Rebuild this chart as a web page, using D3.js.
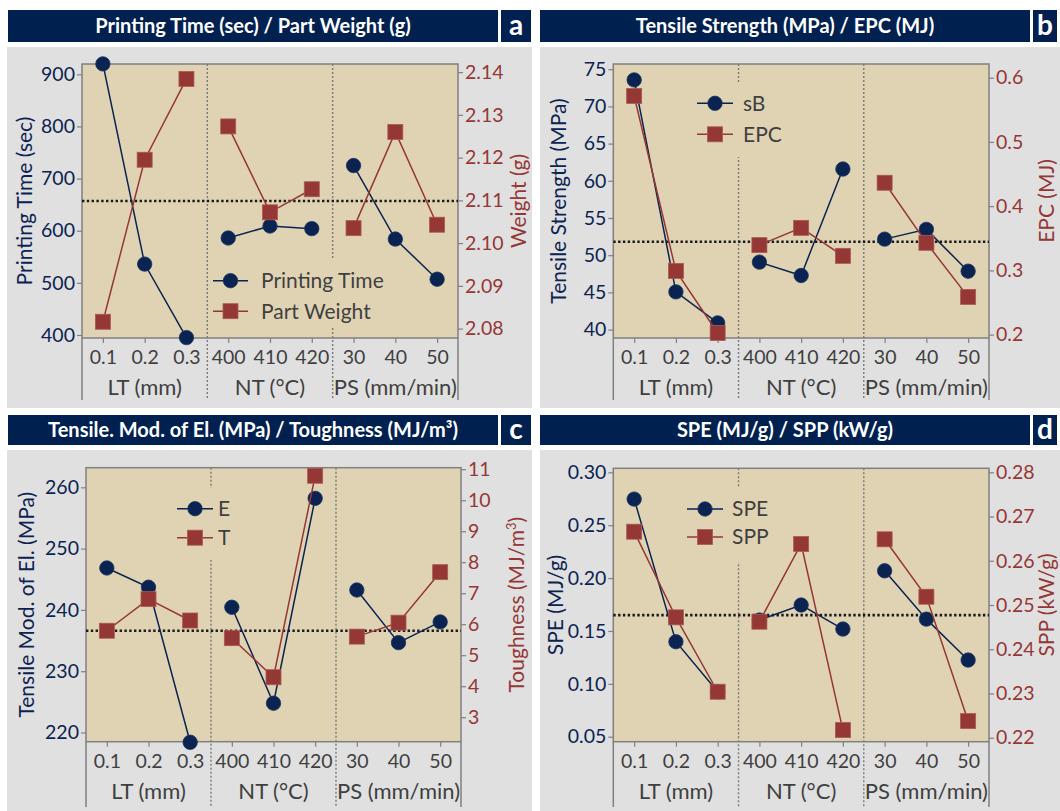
<!DOCTYPE html>
<html>
<head>
<meta charset="utf-8">
<script src="https://cdn.jsdelivr.net/npm/d3@7"></script>
<style>
  html, body { margin: 0; padding: 0; background: #ffffff; }
  svg { display: block; font-family: Lato, "Open Sans", sans-serif; }
</style>
</head>
<body>
<svg id="chart" width="1060" height="811"></svg>
<script>
// Factor levels on the shared x axis and the factor groups they belong to
const levels = ["0.1", "0.2", "0.3", "400", "410", "420", "30", "40", "50"];
const factors = ["LT (mm)", "NT (°C)", "PS (mm/min)"];

// Main-effect means for each level
const printingTime    = [920, 536, 395, 586, 609, 604, 725, 584, 507];
const partWeight      = [2.0816, 2.1195, 2.1384, 2.1273, 2.1072, 2.1126, 2.1035, 2.1260, 2.1043];
const tensileStrength = [73.56, 45.07, 40.90, 49.07, 47.27, 61.58, 52.16, 53.47, 47.85];
const epc             = [0.5715, 0.2992, 0.2025, 0.3393, 0.3662, 0.3226, 0.4364, 0.3429, 0.2587];
const tensileModulus  = [246.84, 243.70, 218.40, 240.43, 224.78, 258.20, 243.25, 234.66, 238.04];
const toughness       = [5.79, 6.81, 6.12, 5.55, 4.29, 10.79, 5.60, 6.05, 7.68];
const spe             = [0.2747, 0.1398, 0.0925, 0.1603, 0.1745, 0.1518, 0.2069, 0.1612, 0.1225];
const spp             = [0.26657, 0.24721, 0.23039, 0.24622, 0.26379, 0.22172, 0.26485, 0.25187, 0.22376];

// Overall mean reference line (left-axis units)
const overallMeans = [657, 51.8, 236.6, 0.165];

// Axis tick values
const ticksPT   = [400, 500, 600, 700, 800, 900];
const ticksPW   = [2.08, 2.09, 2.10, 2.11, 2.12, 2.13, 2.14];
const ticksTS   = [40, 45, 50, 55, 60, 65, 70, 75];
const ticksEPC  = [0.2, 0.3, 0.4, 0.5, 0.6];
const ticksE    = [220, 230, 240, 250, 260];
const ticksT    = [3, 4, 5, 6, 7, 8, 9, 10, 11];
const ticksSPE  = [0.05, 0.10, 0.15, 0.20, 0.25, 0.30];
const ticksSPP  = [0.22, 0.23, 0.24, 0.25, 0.26, 0.27, 0.28];

const NAVY = "#0b2350";
const RED = "#953735";
const BAR = "#00214f";
const PANEL = "#e0e0e0";
const PLOT = "#dfd3b4";
const FRAME = "#808080";
const GREY_TEXT = "#3f3f3f";

const FS_TICK = 19.5, FS_GROUP = 22, FS_LEGEND = 21, FS_AXIS = 21, FS_TITLE = 20, FS_LETTER = 28;

const panels = [
  {
    letter: "a", title: ["Printing Time (sec) / Part Weight (g)"],
    bar: [8, 10, 498, 42], box: [501, 10, 531, 42], bg: [7, 47, 532, 408],
    plot: [82, 64, 458, 338], bottom: 400,
    left: { values: printingTime, domain: [394.2, 919.8], ticks: ticksPT, fmt: d3.format("d"), name: "Printing Time", title: ["Printing Time (sec)"], tx: -57 },
    right: { values: partWeight, domain: [2.0778, 2.1419], ticks: ticksPW, fmt: d3.format(".2f"), name: "Part Weight", title: ["Weight (g)"], tx: 61 },
    mean: overallMeans[0],
    legend: { x0: 213, x1: 248, y: 280.7, dy: 30.5, tx: 261, box: [210, 260, 400, 327] }
  },
  {
    letter: "b", title: ["Tensile Strength (MPa) / EPC (MJ)"],
    bar: [540, 10, 1030, 42], box: [1033, 10, 1057, 42], bg: [540, 47, 1060, 408],
    plot: [613.3, 64, 989, 338], bottom: 400,
    left: { values: tensileStrength, domain: [38.87, 75.7], ticks: ticksTS, fmt: d3.format("d"), name: "sB", title: ["Tensile Strength (MPa)"], tx: -55 },
    right: { values: epc, domain: [0.1947, 0.6213], ticks: ticksEPC, fmt: d3.format(".1f"), name: "EPC", title: ["EPC (MJ)"], tx: 58 },
    mean: overallMeans[1],
    legend: { x0: 697, x1: 733, y: 103.3, dy: 31, tx: 743, box: [690, 83, 800, 157] }
  },
  {
    letter: "c", title: ["Tensile. Mod. of El. (MPa) / Toughness (MJ/m³)"],
    bar: [8, 415, 498, 445], box: [501, 415, 531, 445], bg: [7, 450, 532, 811],
    plot: [86, 467.7, 461, 741.7], bottom: 807,
    left: { values: tensileModulus, domain: [218.5, 263.2], ticks: ticksE, fmt: d3.format("d"), name: "E", title: ["Tensile Mod. of El. (MPa)"], tx: -59 },
    right: { values: toughness, domain: [2.21, 11.05], ticks: ticksT, fmt: d3.format("d"), name: "T", title: ["Toughness (MJ/m", "3", ")"], tx: 56 },
    mean: overallMeans[2],
    legend: { x0: 177, x1: 213, y: 508.7, dy: 29, tx: 218, box: [172, 488, 260, 560] }
  },
  {
    letter: "d", title: ["SPE (MJ/g) / SPP (kW/g)"],
    bar: [540, 415, 1030, 445], box: [1033, 415, 1057, 445], bg: [540, 450, 1060, 811],
    plot: [613.3, 468.3, 989, 741.7], bottom: 807,
    left: { values: spe, domain: [0.0453, 0.3038], ticks: ticksSPE, fmt: d3.format(".2f"), name: "SPE", title: ["SPE (MJ/g)"], tx: -58 },
    right: { values: spp, domain: [0.2191, 0.2809], ticks: ticksSPP, fmt: d3.format(".2f"), name: "SPP", title: ["SPP (kW/g)"], tx: 58 },
    mean: overallMeans[3],
    legend: { x0: 687, x1: 723, y: 509, dy: 28, tx: 732, box: [680, 488, 800, 562] }
  }
];

const svg = d3.select("#chart");

function circleMarker(g, cx, cy, r) {
  g.append("circle").attr("cx", cx).attr("cy", cy).attr("r", r)
    .attr("fill", NAVY).attr("stroke", "#1a3560").attr("stroke-width", 0.8);
}
function squareMarker(g, cx, cy, s) {
  g.append("rect").attr("x", cx - s / 2).attr("y", cy - s / 2)
    .attr("width", s).attr("height", s)
    .attr("fill", RED).attr("stroke", "#a85a55").attr("stroke-width", 0.8);
}

panels.forEach(p => {
  const g = svg.append("g");
  const [L, T, R, B] = p.plot;

  // Panel backgrounds and the title bar
  g.append("rect").attr("x", p.bg[0]).attr("y", p.bg[1])
    .attr("width", p.bg[2] - p.bg[0]).attr("height", p.bg[3] - p.bg[1]).attr("fill", PANEL);
  g.append("rect").attr("x", p.bar[0]).attr("y", p.bar[1])
    .attr("width", p.bar[2] - p.bar[0]).attr("height", p.bar[3] - p.bar[1]).attr("fill", BAR);
  g.append("text").attr("x", (p.bar[0] + p.bar[2]) / 2).attr("y", (p.bar[1] + p.bar[3]) / 2 + 7)
    .attr("text-anchor", "middle").attr("fill", "#fff").attr("font-weight", "bold")
    .attr("font-size", FS_TITLE).text(p.title[0]);
  g.append("rect").attr("x", p.box[0]).attr("y", p.box[1])
    .attr("width", p.box[2] - p.box[0]).attr("height", p.box[3] - p.box[1]).attr("fill", BAR);
  g.append("text").attr("x", (p.box[0] + p.box[2]) / 2).attr("y", (p.box[1] + p.box[3]) / 2 + 9)
    .attr("text-anchor", "middle").attr("fill", "#fff").attr("font-weight", "bold")
    .attr("font-size", FS_LETTER).text(p.letter);

  // Scales
  const x = d3.scalePoint().domain(levels).range([L, R]).padding(0.5);
  const step = x.step();
  const yL = d3.scaleLinear().domain(p.left.domain).range([B, T]);
  const yR = d3.scaleLinear().domain(p.right.domain).range([B, T]);

  // Plot area
  g.append("rect").attr("x", L).attr("y", T).attr("width", R - L).attr("height", B - T).attr("fill", PLOT);

  // Factor group dividers, running down through the label strip
  [3, 6].forEach(k => {
    const xd = L + step * k;
    g.append("line").attr("x1", xd).attr("x2", xd).attr("y1", T).attr("y2", p.bottom)
      .attr("stroke", "#7a7a7a").attr("stroke-width", 1.4).attr("stroke-dasharray", "2,2");
  });

  // Frame of the plot plus the label strip edges
  g.append("rect").attr("x", L).attr("y", T).attr("width", R - L).attr("height", B - T)
    .attr("fill", "none").attr("stroke", FRAME).attr("stroke-width", 1.5);
  [L, R].forEach(xe => g.append("line").attr("x1", xe).attr("x2", xe).attr("y1", B).attr("y2", p.bottom)
    .attr("stroke", FRAME).attr("stroke-width", 1.5));

  // Left axis
  const axL = g.append("g").attr("transform", `translate(${L},0)`)
    .call(d3.axisLeft(yL).tickValues(p.left.ticks).tickFormat(p.left.fmt).tickSize(5).tickPadding(2));
  axL.select(".domain").remove();
  axL.selectAll("line").attr("stroke", FRAME).attr("stroke-width", 1.2);
  axL.selectAll("text").attr("fill", NAVY).attr("font-size", FS_TICK).attr("font-family", "Lato, sans-serif");

  // Right axis
  const axR = g.append("g").attr("transform", `translate(${R},0)`)
    .call(d3.axisRight(yR).tickValues(p.right.ticks).tickFormat(p.right.fmt).tickSize(5).tickPadding(2));
  axR.select(".domain").remove();
  axR.selectAll("line").attr("stroke", FRAME).attr("stroke-width", 1.2);
  axR.selectAll("text").attr("fill", RED).attr("font-size", FS_TICK).attr("font-family", "Lato, sans-serif");

  // Bottom axis with level labels
  const axB = g.append("g").attr("transform", `translate(0,${B})`)
    .call(d3.axisBottom(x).tickSize(5).tickPadding(7));
  axB.select(".domain").remove();
  axB.selectAll("line").attr("stroke", FRAME).attr("stroke-width", 1.2);
  axB.selectAll("text").attr("fill", GREY_TEXT).attr("font-size", FS_TICK).attr("font-family", "Lato, sans-serif");

  // Factor group names
  factors.forEach((f, i) => {
    g.append("text").attr("x", L + step * (3 * i + 1.5)).attr("y", B + 57)
      .attr("text-anchor", "middle").attr("fill", GREY_TEXT).attr("font-size", FS_GROUP).text(f);
  });

  // Axis titles
  const cy = (T + B) / 2;
  g.append("text").attr("transform", `translate(${L + p.left.tx},${cy}) rotate(-90)`)
    .attr("text-anchor", "middle").attr("dy", "0.35em").attr("fill", NAVY).attr("font-size", FS_AXIS)
    .text(p.left.title[0]);
  const rt = g.append("text").attr("transform", `translate(${R + p.right.tx},${cy}) rotate(-90)`)
    .attr("text-anchor", "middle").attr("dy", "0.35em").attr("fill", RED).attr("font-size", FS_AXIS);
  rt.append("tspan").text(p.right.title[0]);
  if (p.right.title.length > 1) {
    rt.append("tspan").attr("font-size", 13).attr("dy", -8).text(p.right.title[1]);
    rt.append("tspan").attr("dy", 8).text(p.right.title[2]);
  }

  // Legend panel hides the dividers behind it
  const lb = p.legend.box;
  g.append("rect").attr("x", lb[0]).attr("y", lb[1]).attr("width", lb[2] - lb[0]).attr("height", lb[3] - lb[1])
    .attr("fill", PLOT);

  // Overall mean
  g.append("line").attr("x1", L).attr("x2", R).attr("y1", yL(p.mean)).attr("y2", yL(p.mean))
    .attr("stroke", "#1a1a1a").attr("stroke-width", 2.6).attr("stroke-dasharray", "2.4,2.4");

  // Series: one line segment per factor group
  const lineL = d3.line().x(d => x(d.k)).y(d => yL(d.v));
  const lineR = d3.line().x(d => x(d.k)).y(d => yR(d.v));
  const dataL = levels.map((k, i) => ({ k, v: p.left.values[i] }));
  const dataR = levels.map((k, i) => ({ k, v: p.right.values[i] }));
  [0, 1, 2].forEach(gi => {
    g.append("path").datum(dataL.slice(gi * 3, gi * 3 + 3)).attr("d", lineL)
      .attr("fill", "none").attr("stroke", NAVY).attr("stroke-width", 1.5);
  });
  dataL.forEach(d => circleMarker(g, x(d.k), yL(d.v), 7.2));
  [0, 1, 2].forEach(gi => {
    g.append("path").datum(dataR.slice(gi * 3, gi * 3 + 3)).attr("d", lineR)
      .attr("fill", "none").attr("stroke", RED).attr("stroke-width", 1.5);
  });
  dataR.forEach(d => squareMarker(g, x(d.k), yR(d.v), 15));

  // Legend entries
  const lg = p.legend;
  [[p.left.name, "c", NAVY], [p.right.name, "s", RED]].forEach(([name, m, col], i) => {
    const ly = lg.y + i * lg.dy;
    g.append("line").attr("x1", lg.x0).attr("x2", lg.x1).attr("y1", ly).attr("y2", ly)
      .attr("stroke", col).attr("stroke-width", 1.5);
    const mx = (lg.x0 + lg.x1) / 2;
    if (m === "c") circleMarker(g, mx, ly, 7.2); else squareMarker(g, mx, ly, 15);
    g.append("text").attr("x", lg.tx).attr("y", ly).attr("dy", "0.35em")
      .attr("fill", GREY_TEXT).attr("font-size", FS_LEGEND).text(name);
  });
});
</script>
</body>
</html>
